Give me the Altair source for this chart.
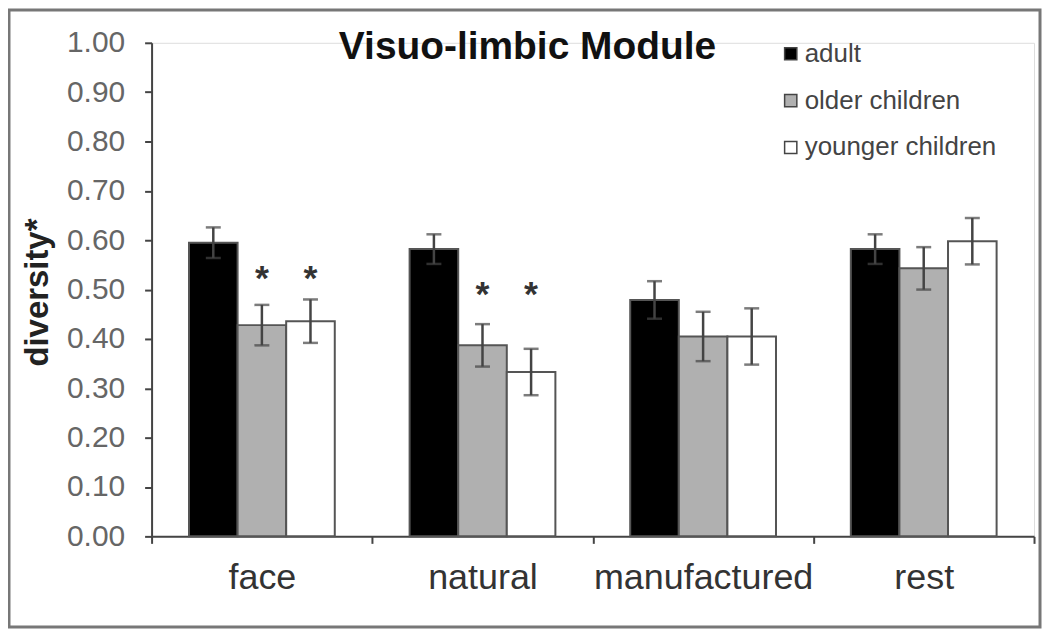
import altair as alt
import pandas as pd

categories = ["face", "natural", "manufactured", "rest"]
groups = ["adult", "older children", "younger children"]
adult = [0.595, 0.582, 0.479, 0.582]
adult_err = [0.031, 0.030, 0.038, 0.030]
older = [0.428, 0.387, 0.405, 0.543]
older_err = [0.041, 0.043, 0.050, 0.043]
younger = [0.436, 0.333, 0.405, 0.598]
younger_err = [0.044, 0.047, 0.057, 0.047]

star_cats = ["face", "face", "natural", "natural"]
star_groups = ["older children", "younger children", "older children", "younger children"]
star_y = [0.53, 0.53, 0.497, 0.497]

y_ticks = [round(i * 0.1, 1) for i in range(11)]

rows = []
for vals, errs, g in [(adult, adult_err, groups[0]), (older, older_err, groups[1]), (younger, younger_err, groups[2])]:
    for c, v, e in zip(categories, vals, errs):
        rows.append({"cat": c, "grp": g, "val": v, "lo": v - e, "hi": v + e})
df = pd.DataFrame(rows)
stars = pd.DataFrame({"cat": star_cats, "grp": star_groups, "y": star_y})

W, H = 885, 495

x_enc = alt.X("cat:N", sort=categories, scale=alt.Scale(paddingInner=0, paddingOuter=0),
              axis=alt.Axis(title=None, tickBand="extent", labelFontSize=36, labelColor="#333",
                            labelFont="Liberation Sans", labelPadding=17, tickSize=7, labelLimit=0,
                            tickColor="#444", tickWidth=2, domainColor="#444", domainWidth=2,
                            labelAngle=0, grid=False))
xo_enc = alt.XOffset("grp:N", sort=groups, scale=alt.Scale(paddingInner=0, paddingOuter=0.77))
y_scale = alt.Scale(domain=[0, 1])

bars = alt.Chart(df).mark_bar(stroke="#555", strokeWidth=2).encode(
    x=x_enc,
    xOffset=xo_enc,
    y=alt.Y("val:Q", scale=y_scale,
            axis=alt.Axis(values=y_ticks, format=".2f", labelFontSize=30, labelColor="#666",
                          labelFont="Liberation Sans", labelPadding=20, tickSize=7, tickColor="#444",
                          tickWidth=2, domainColor="#444", domainWidth=2, grid=False,
                          title="diversity*", titleFontSize=33, titleFont="Liberation Sans",
                          titleFontWeight="bold", titleColor="#222", titleX=-114, titleY=250,
                          titleAlign="center", titleBaseline="middle", titleAngle=270)),
    color=alt.Color("grp:N", sort=groups,
                    scale=alt.Scale(domain=groups, range=["#000000", "#b0b0b0", "#ffffff"]),
                    legend=alt.Legend(title=None, orient="none", legendX=628, legendY=-2,
                                      symbolType="square", symbolSize=150, symbolStrokeColor="#444",
                                      symbolStrokeWidth=1.5, labelFontSize=26, labelColor="#444",
                                      labelFont="Liberation Sans", rowPadding=21, labelOffset=1,
                                      labelLimit=0)),
)

err = alt.Chart(df).mark_rule(color="#444", strokeWidth=2.5).encode(
    x=alt.X("cat:N", sort=categories), xOffset=alt.XOffset("grp:N", sort=groups),
    y="lo:Q", y2="hi:Q")
cap_lo = alt.Chart(df).mark_tick(color="#444", size=15, thickness=2.5, orient="horizontal").encode(
    x=alt.X("cat:N", sort=categories), xOffset=alt.XOffset("grp:N", sort=groups), y="lo:Q")
cap_hi = alt.Chart(df).mark_tick(color="#444", size=15, thickness=2.5, orient="horizontal").encode(
    x=alt.X("cat:N", sort=categories), xOffset=alt.XOffset("grp:N", sort=groups), y="hi:Q")

star_marks = alt.Chart(stars).mark_text(text="*", fontSize=36, font="Liberation Sans",
                                        fontWeight="bold", color="#333",
                                        baseline="alphabetic", dy=15).encode(
    x=alt.X("cat:N", sort=categories), xOffset=alt.XOffset("grp:N", sort=groups), y="y:Q")

one = alt.Data(values=[{"k": 1}])
title = alt.Chart(one).mark_text(text="Visuo-limbic Module", fontSize=39, fontWeight="bold",
                                  font="Liberation Sans", color="#111", align="center",
                                  baseline="alphabetic").encode(x=alt.value(377), y=alt.value(16))
frame = alt.Chart(one).mark_rect(fill=None, fillOpacity=0, stroke="#777", strokeWidth=3).encode(
    x=alt.value(-143), x2=alt.value(891), y=alt.value(-33), y2=alt.value(586))

chart = alt.layer(frame, bars, err, cap_lo, cap_hi, star_marks, title).resolve_scale(
    x="shared", y="shared").properties(
    width=W, height=H,
    autosize=alt.AutoSizeParams(type="none"),
    padding={"left": 144, "top": 34, "right": 8, "bottom": 93},
).configure_view(stroke=None).configure(background="white")

chart.save("out.html", embed_options={"renderer": "svg", "actions": False})
